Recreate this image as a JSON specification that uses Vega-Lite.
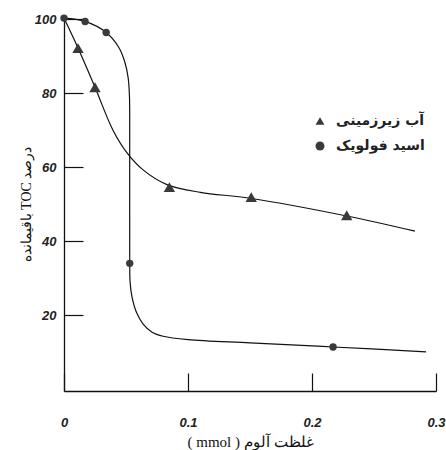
{
  "$schema": "https://vega.github.io/schema/vega-lite/v6.json",
  "width": 372,
  "height": 374,
  "autosize": "none",
  "padding": {"left": 64, "top": 17, "right": 10, "bottom": 59},
  "background": "white",
  "config": {
    "view": {"stroke": null},
    "axis": {
      "grid": false,
      "domainColor": "#111",
      "domainWidth": 1.3,
      "tickColor": "#111",
      "tickWidth": 1.2,
      "labelFont": "Liberation Sans",
      "labelFontStyle": "italic",
      "labelFontWeight": "bold",
      "labelFontSize": 13,
      "labelColor": "#222",
      "titleFont": "Liberation Serif",
      "titleFontWeight": "normal",
      "titleFontSize": 14,
      "titleColor": "#111"
    }
  },
  "datasets": {
    "curves": [
      {"series": "اسید فولویک", "x": 0, "y": 100.3},
      {"series": "اسید فولویک", "x": 0.017, "y": 99.4},
      {"series": "اسید فولویک", "x": 0.034, "y": 96.4},
      {"series": "اسید فولویک", "x": 0.044, "y": 92.5},
      {"series": "اسید فولویک", "x": 0.049, "y": 88.5},
      {"series": "اسید فولویک", "x": 0.0518, "y": 84},
      {"series": "اسید فولویک", "x": 0.0528, "y": 79},
      {"series": "اسید فولویک", "x": 0.053, "y": 72},
      {"series": "اسید فولویک", "x": 0.053, "y": 34},
      {"series": "اسید فولویک", "x": 0.0533, "y": 29},
      {"series": "اسید فولویک", "x": 0.0548, "y": 25},
      {"series": "اسید فولویک", "x": 0.0585, "y": 20.7},
      {"series": "اسید فولویک", "x": 0.064, "y": 17.5},
      {"series": "اسید فولویک", "x": 0.071, "y": 15.4},
      {"series": "اسید فولویک", "x": 0.08, "y": 14.3},
      {"series": "اسید فولویک", "x": 0.1, "y": 13.4},
      {"series": "اسید فولویک", "x": 0.15, "y": 12.5},
      {"series": "اسید فولویک", "x": 0.217, "y": 11.4},
      {"series": "اسید فولویک", "x": 0.292, "y": 10.1},
      {"series": "آب زیرزمینی", "x": 0, "y": 100.3},
      {"series": "آب زیرزمینی", "x": 0.0113, "y": 92.2},
      {"series": "آب زیرزمینی", "x": 0.025, "y": 81.6},
      {"series": "آب زیرزمینی", "x": 0.0395, "y": 70},
      {"series": "آب زیرزمینی", "x": 0.051, "y": 63.8},
      {"series": "آب زیرزمینی", "x": 0.064, "y": 59.2},
      {"series": "آب زیرزمینی", "x": 0.083, "y": 55.3},
      {"series": "آب زیرزمینی", "x": 0.11, "y": 53.2},
      {"series": "آب زیرزمینی", "x": 0.15, "y": 51.6},
      {"series": "آب زیرزمینی", "x": 0.228, "y": 46.8},
      {"series": "آب زیرزمینی", "x": 0.283, "y": 42.7}
    ],
    "points": [
      {"series": "آب زیرزمینی", "x": 0.0113, "y": 92.2},
      {"series": "آب زیرزمینی", "x": 0.025, "y": 81.6},
      {"series": "آب زیرزمینی", "x": 0.085, "y": 54.6},
      {"series": "آب زیرزمینی", "x": 0.151, "y": 51.9},
      {"series": "آب زیرزمینی", "x": 0.228, "y": 47},
      {"series": "اسید فولویک", "x": 0, "y": 100.3},
      {"series": "اسید فولویک", "x": 0.017, "y": 99.4},
      {"series": "اسید فولویک", "x": 0.034, "y": 96.4},
      {"series": "اسید فولویک", "x": 0.053, "y": 34},
      {"series": "اسید فولویک", "x": 0.217, "y": 11.4}
    ]
  },
  "layer": [
    {
      "data": {"name": "curves"},
      "mark": {"type": "line", "interpolate": "catmull-rom", "color": "#111", "strokeWidth": 1.2},
      "encoding": {
        "x": {"field": "x", "type": "quantitative"},
        "y": {"field": "y", "type": "quantitative"},
        "detail": {"field": "series"},
        "order": {"value": null}
      }
    },
    {
      "data": {"name": "points"},
      "transform": [{"filter": "datum.series === 'آب زیرزمینی'"}],
      "mark": {"type": "point", "filled": true, "opacity": 1, "size": 130},
      "encoding": {
        "x": {"field": "x", "type": "quantitative"},
        "y": {"field": "y", "type": "quantitative"},
        "shape": {"field": "series", "type": "nominal"},
        "color": {"value": "#3a3a3a"}
      }
    },
    {
      "data": {"name": "points"},
      "transform": [{"filter": "datum.series === 'اسید فولویک'"}],
      "mark": {"type": "point", "filled": true, "opacity": 1, "size": 55},
      "encoding": {
        "x": {
          "field": "x", "type": "quantitative",
          "scale": {"domain": [0, 0.3], "nice": false, "zero": false},
          "axis": {
            "values": [0, 0.1, 0.2, 0.3],
            "format": ".1~f",
            "tickSize": -18,
            "labelPadding": 43,
            "labelFlush": false,
            "title": "\u202Bغلظت آلوم ( mmol )\u202C",
            "titleFontSize": 15,
            "titlePadding": 5
          }
        },
        "y": {
          "field": "y", "type": "quantitative",
          "scale": {"domain": [-0.5, 100.6], "nice": false, "zero": false},
          "axis": {
            "values": [20, 40, 60, 80, 100],
            "tickSize": -19,
            "labelPadding": 27,
            "title": "\u202Bدرصد TOC باقیمانده\u202C",
            "titlePadding": 1
          }
        },
        "shape": {
          "field": "series", "type": "nominal",
          "scale": {"domain": ["آب زیرزمینی", "اسید فولویک"], "range": ["triangle-up", "circle"]},
          "legend": {
            "title": null,
            "orient": "none",
            "legendX": 249,
            "legendY": 97,
            "padding": 0,
            "rowPadding": 10,
            "symbolFillColor": "#3a3a3a",
            "symbolStrokeColor": "#3a3a3a",
            "symbolSize": 80,
            "labelFont": "DejaVu Sans",
            "labelFontSize": 14,
            "labelFontWeight": "bold",
            "labelColor": "#222",
            "labelOffset": 9
          }
        },
        "color": {"value": "#3a3a3a"}
      }
    }
  ]
}
